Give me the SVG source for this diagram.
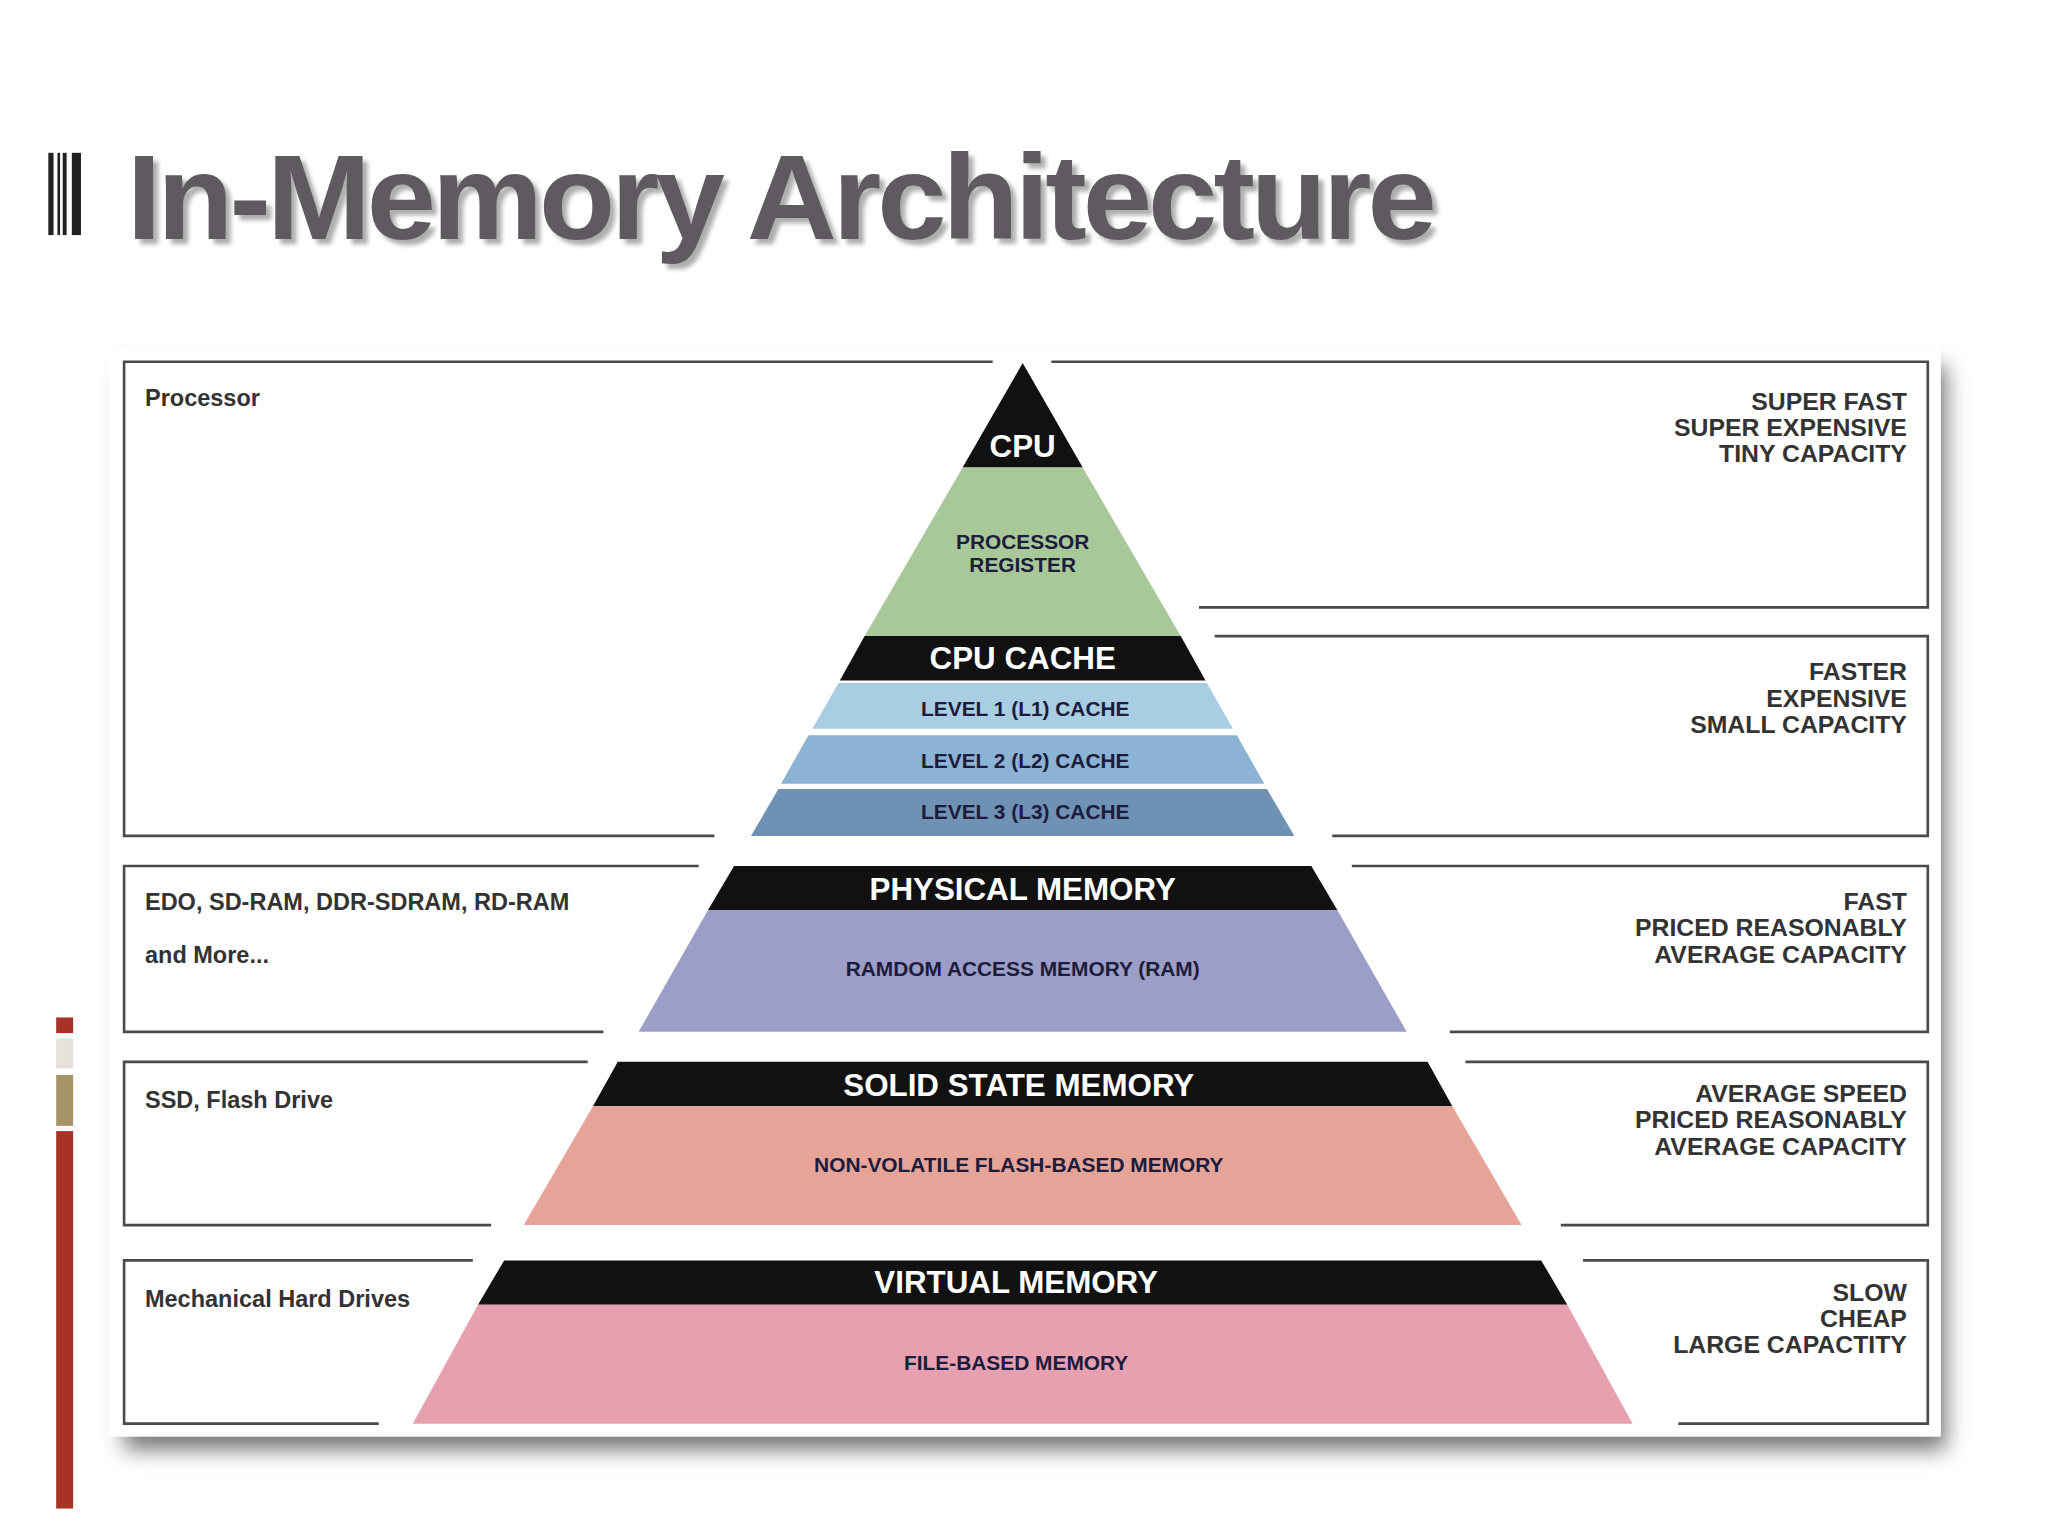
<svg xmlns="http://www.w3.org/2000/svg" width="2048" height="1536" viewBox="0 0 2048 1536">
<defs>
<style>
.ln{stroke:#4a4a4a;stroke-width:2;fill:none}
.rt{font-family:"Liberation Sans",Arial,sans-serif;font-weight:bold;font-size:19px;fill:#333;text-anchor:end}
.lt{font-family:"Liberation Sans",Arial,sans-serif;font-weight:bold;font-size:18px;fill:#333}
.bt{font-family:"Liberation Sans",Arial,sans-serif;font-weight:bold;font-size:24px;fill:#fff;text-anchor:middle}
.it{font-family:"Liberation Sans",Arial,sans-serif;font-weight:bold;font-size:16px;fill:#1c1c3c;text-anchor:middle}
</style>
<filter id="sh" x="-5%" y="-5%" width="115%" height="120%"><feGaussianBlur stdDeviation="8"/></filter>
<filter id="ts" x="-2%" y="-10%" width="105%" height="130%"><feDropShadow dx="4" dy="4" stdDeviation="1.5" flood-color="#999" flood-opacity="0.8"/></filter>
</defs>
<rect width="2048" height="1536" fill="#fff"/>
<g transform="scale(1.3061)">
<g id="title">
<rect x="37" y="117" width="4" height="63" fill="#222"/><rect x="44" y="117" width="2" height="63" fill="#222"/><rect x="48" y="117" width="3" height="63" fill="#222"/><rect x="55" y="117" width="7" height="63" fill="#222"/>
<text x="97" y="183" filter="url(#ts)" font-family="Liberation Sans,Arial,sans-serif" font-weight="bold" font-size="92" fill="#5f5a5f" textLength="1000" lengthAdjust="spacingAndGlyphs" letter-spacing="-3">In-Memory Architecture</text>
</g>
<g id="sidebar">
<rect x="43" y="779" width="13" height="12" fill="#a93226"/>
<rect x="43" y="795" width="13" height="23" fill="#e6e2d8"/>
<rect x="43" y="823" width="13" height="39" fill="#a89368"/>
<rect x="43" y="866" width="13" height="289" fill="#a93226"/>
</g>
<rect x="95" y="280" width="1395" height="830" fill="#777" filter="url(#sh)"/>
<rect x="83" y="267" width="1403" height="833" fill="#fff"/>
<g id="connectors">
<path class="ln" d="M760 277H95V640H547"/>
<path class="ln" d="M805 277H1476V465H918"/>
<path class="ln" d="M930 487H1476V640H1020"/>
<path class="ln" d="M535 663H95V790H462"/>
<path class="ln" d="M1035 663H1476V790H1110"/>
<path class="ln" d="M450 813H95V938H376"/>
<path class="ln" d="M1122 813H1476V938H1195"/>
<path class="ln" d="M362 965H95V1090H290"/>
<path class="ln" d="M1212 965H1476V1090H1285"/>
</g>
<g id="cpu"><polygon points="783,278 829,358 737,358" fill="#111"/><text class="bt" x="783" y="350">CPU</text></g>
<g id="register"><polygon points="737,358 829,358 904,487 662,487" fill="#a9c89a"/><text class="it" x="783" y="420">PROCESSOR</text><text class="it" x="783" y="438">REGISTER</text></g>
<g id="cache"><polygon points="662,487 904,487 923,521 643,521" fill="#111"/><text class="bt" x="783" y="512">CPU CACHE</text></g>
<g id="l1"><polygon points="642,523 924,523 944,558 622,558" fill="#a9cde3"/><text class="it" x="785" y="548">LEVEL 1 (L1) CACHE</text></g>
<g id="l2"><polygon points="619,563 947,563 968,600 598,600" fill="#8cb3d4"/><text class="it" x="785" y="588">LEVEL 2 (L2) CACHE</text></g>
<g id="l3"><polygon points="596,604 970,604 991,640 575,640" fill="#6f91b3"/><text class="it" x="785" y="627">LEVEL 3 (L3) CACHE</text></g>
<g id="physical"><polygon points="562,663 1004,663 1024,697 542,697" fill="#111"/><text class="bt" x="783" y="689">PHYSICAL MEMORY</text>
<polygon points="542,697 1024,697 1077,790 489,790" fill="#9c9ec8"/><text class="it" x="783" y="747">RAMDOM ACCESS MEMORY (RAM)</text></g>
<g id="ssd"><polygon points="473,813 1093,813 1112,847 454,847" fill="#111"/><text class="bt" x="780" y="839">SOLID STATE MEMORY</text>
<polygon points="454,847 1112,847 1165,938 401,938" fill="#e6a398"/><text class="it" x="780" y="897">NON-VOLATILE FLASH-BASED MEMORY</text></g>
<g id="virtual"><polygon points="386,965 1180,965 1200,999 366,999" fill="#111"/><text class="bt" x="778" y="990">VIRTUAL MEMORY</text>
<polygon points="366,999 1200,999 1250,1090 316,1090" fill="#e6a0b0"/><text class="it" x="778" y="1049">FILE-BASED MEMORY</text></g>
<g id="labels">
<text class="lt" x="111" y="311">Processor</text>
<text class="lt" x="111" y="697">EDO, SD-RAM, DDR-SDRAM, RD-RAM</text>
<text class="lt" x="111" y="737">and More...</text>
<text class="lt" x="111" y="848">SSD, Flash Drive</text>
<text class="lt" x="111" y="1001">Mechanical Hard Drives</text>
<text class="rt" x="1460" y="314">SUPER FAST</text><text class="rt" x="1460" y="334">SUPER EXPENSIVE</text><text class="rt" x="1460" y="354">TINY CAPACITY</text>
<text class="rt" x="1460" y="521">FASTER</text><text class="rt" x="1460" y="541">EXPENSIVE</text><text class="rt" x="1460" y="561">SMALL CAPACITY</text>
<text class="rt" x="1460" y="697">FAST</text><text class="rt" x="1460" y="717">PRICED REASONABLY</text><text class="rt" x="1460" y="737">AVERAGE CAPACITY</text>
<text class="rt" x="1460" y="844">AVERAGE SPEED</text><text class="rt" x="1460" y="864">PRICED REASONABLY</text><text class="rt" x="1460" y="884">AVERAGE CAPACITY</text>
<text class="rt" x="1460" y="996">SLOW</text><text class="rt" x="1460" y="1016">CHEAP</text><text class="rt" x="1460" y="1036">LARGE CAPACTITY</text>
</g>
</g>
</svg>
